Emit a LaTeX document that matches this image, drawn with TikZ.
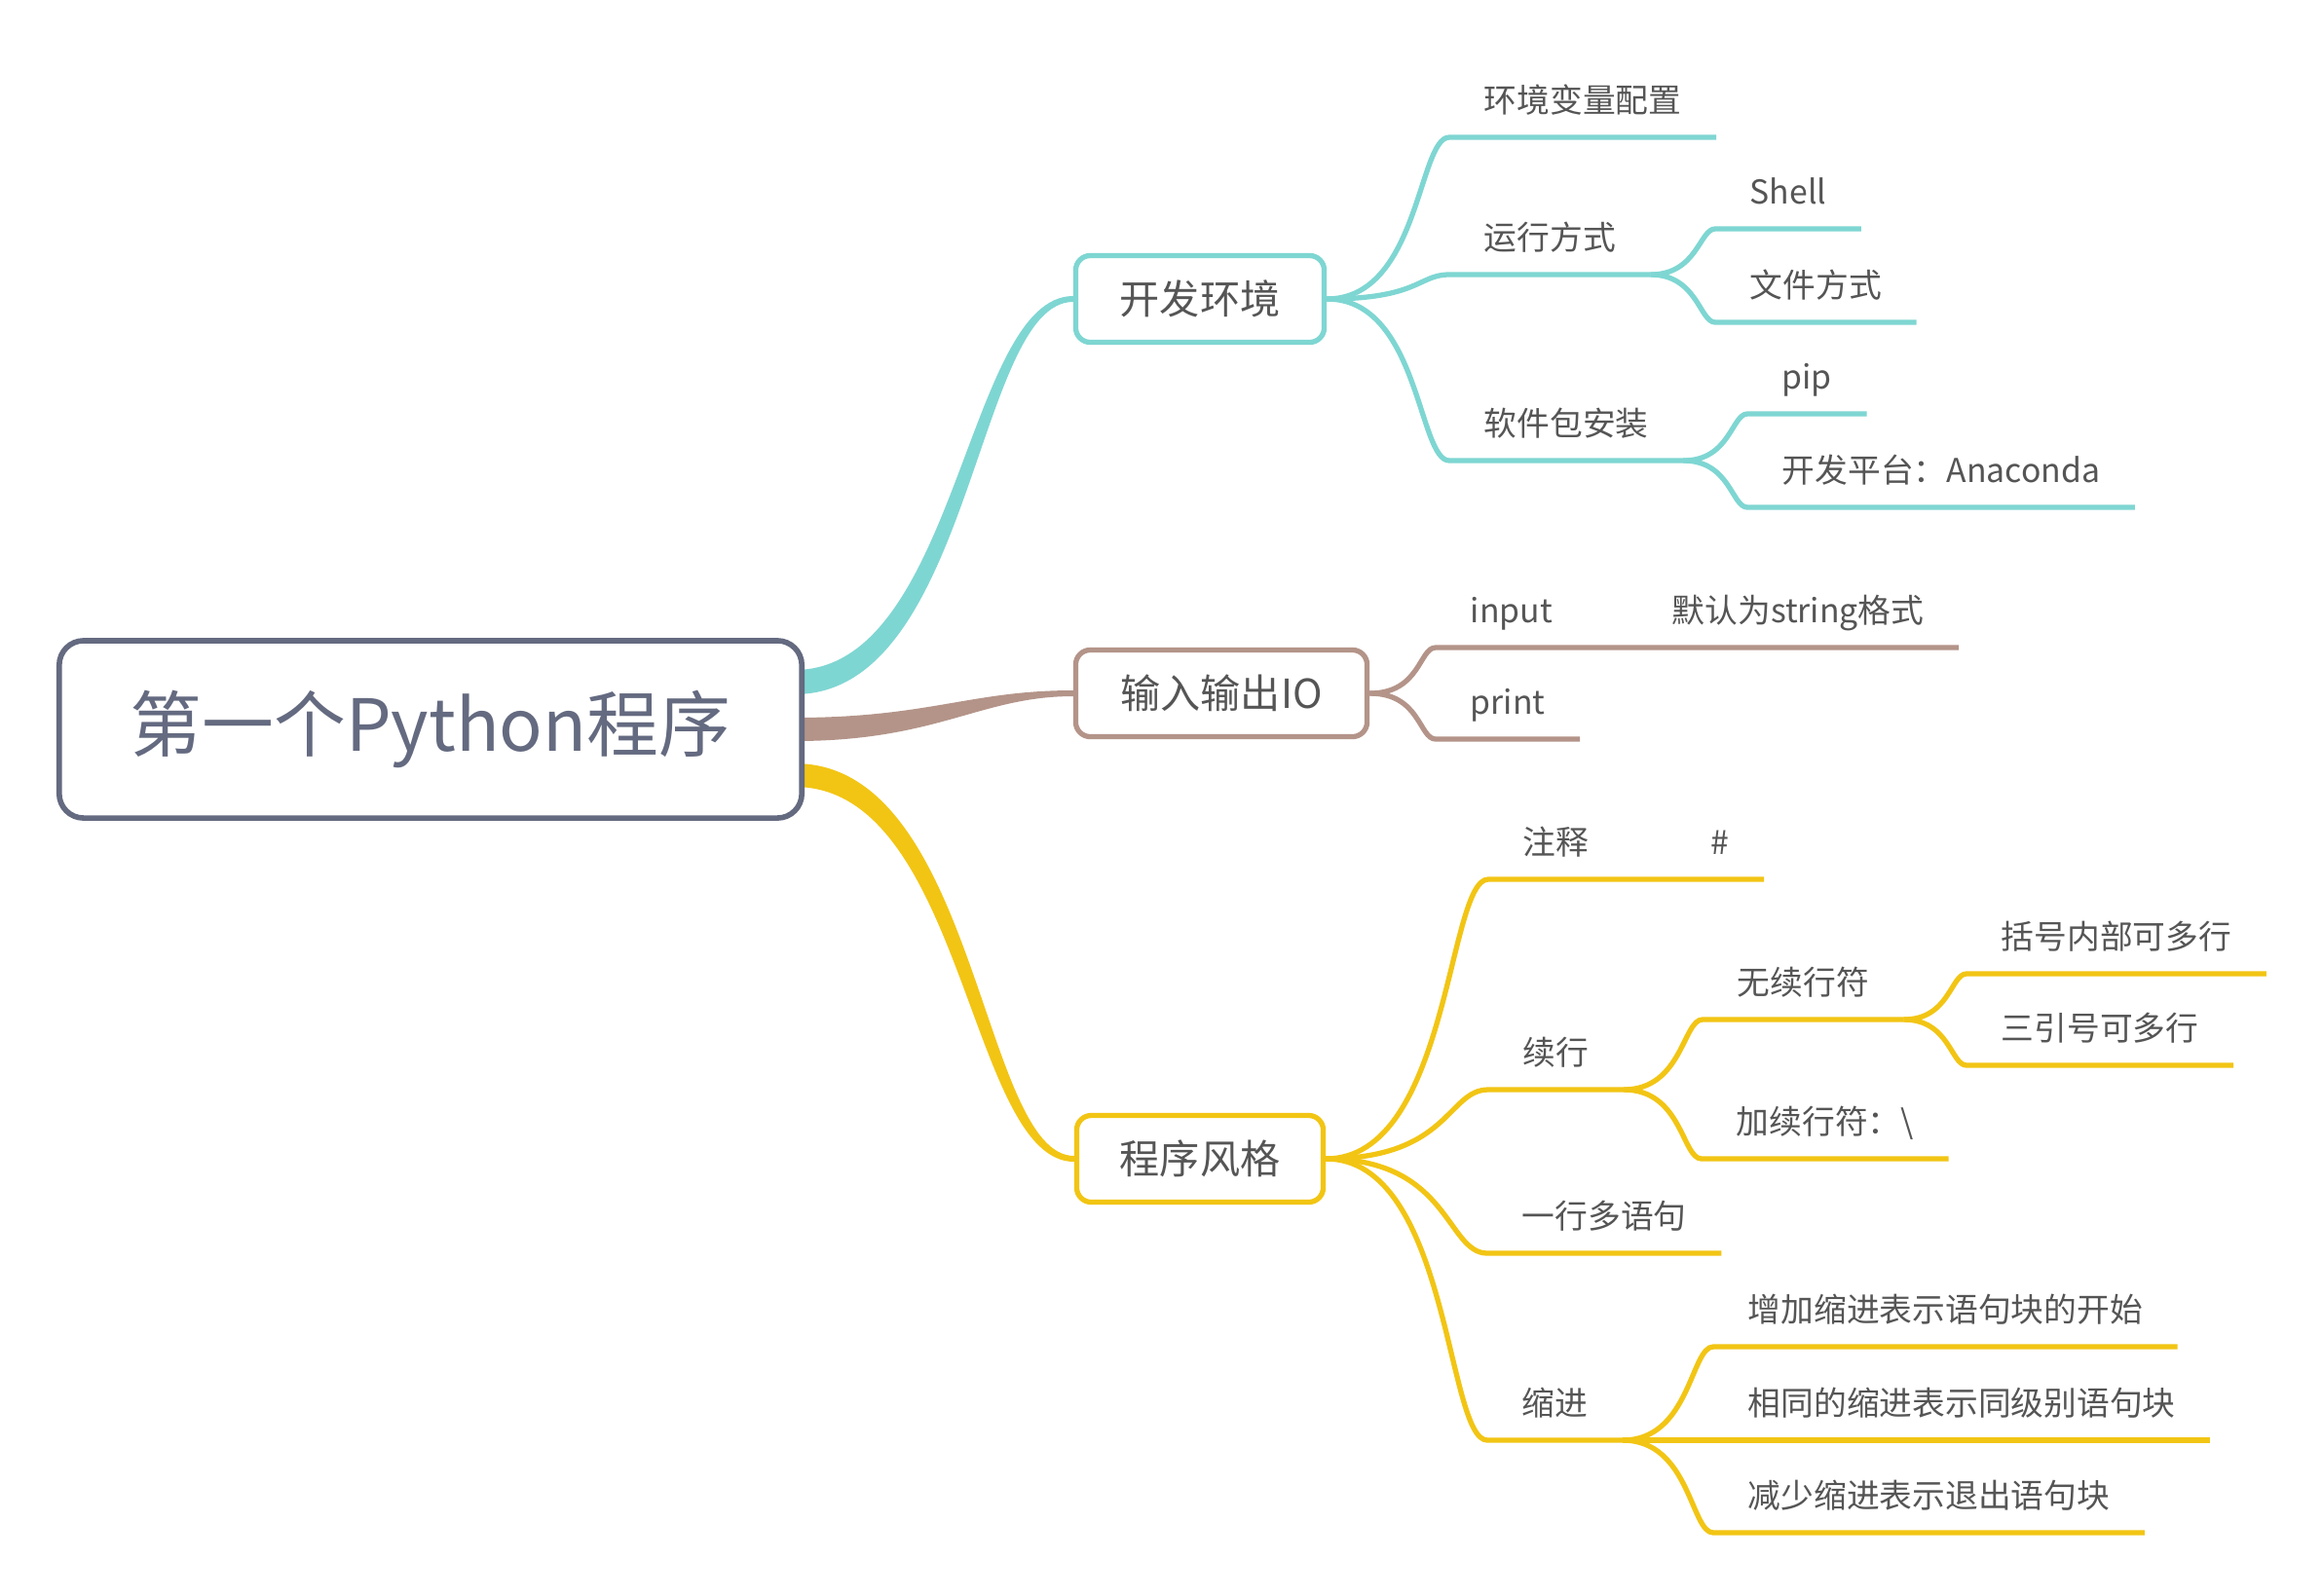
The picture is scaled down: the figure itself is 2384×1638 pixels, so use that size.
\documentclass[tikz,border=0pt]{standalone}
\usepackage{fontspec}
\setmainfont{Noto Sans CJK SC}
\usetikzlibrary{backgrounds}

\definecolor{rootc}{RGB}{100,106,128}
\definecolor{tealc}{RGB}{126,214,210}
\definecolor{brownc}{RGB}{180,148,137}
\definecolor{yellowc}{RGB}{242,197,20}
\definecolor{textc}{RGB}{85,85,85}

\begin{document}
\begin{tikzpicture}[x=0.01cm,y=-0.01cm,
  every node/.style={text=textc},
  rootbox/.style={draw=rootc,line width=1.6pt,rounded corners=0.25cm,fill=white,
    minimum width=7.62cm,minimum height=1.82cm,text=rootc,font=\fontsize{21}{25}\selectfont},
  mainbox/.style={draw=#1,line width=1.5pt,rounded corners=0.15cm,fill=white,
    minimum height=0.89cm,font=\fontsize{11.7}{14}\selectfont},
  topic/.style={anchor=south west,inner xsep=0.35cm,inner ysep=0pt,minimum height=0.76cm,
    text height=0.86em,text depth=0.1em,font=\fontsize{9.6}{12}\selectfont},
  link/.style={line width=1.5pt}]

% main topics
\node[rootbox] (root) at (442,749) {第一个Python程序};
\node[mainbox=tealc,minimum width=2.55cm] (devenv) at (1232,307) {开发环境};
\node[mainbox=brownc,minimum width=2.99cm] (io) at (1254,712) {输入输出IO};
\node[mainbox=yellowc,minimum width=2.53cm] (pstyle) at (1232,1190) {程序风格};

% first branch
\node[topic] (env) at (1488,141) {环境变量配置};
\node[topic] (run) at (1488,282) {运行方式};
\node[topic] (shell) at (1761,235) {Shell};
\node[topic] (file) at (1761,331) {文件方式};
\node[topic] (pkg) at (1488,473) {软件包安装};
\node[topic] (pip) at (1794,425) {pip};
\node[topic] (conda) at (1794,521) {开发平台：Anaconda};

% second branch
\node[topic] (input) at (1474,665) {input};
\node[topic] (default) at (1681,665) {默认为string格式};
\node[topic] (print) at (1474,759) {print};

% third branch
\node[topic] (note) at (1528,903) {注释};
\node[topic] (hash) at (1721,903) {\#};
\node[topic] (cont) at (1528,1119) {续行};
\node[topic] (nocont) at (1748,1047) {无续行符};
\node[topic] (bracket) at (2019,1000) {括号内部可多行};
\node[topic] (triple) at (2019,1094) {三引号可多行};
\node[topic] (addcont) at (1747,1190) {加续行符：\textbackslash};
\node[topic] (multi) at (1527,1287) {一行多语句};
\node[topic] (indent) at (1527,1479) {缩进};
\node[topic] (incr) at (1759,1383) {增加缩进表示语句块的开始};
\node[topic] (same) at (1759,1479) {相同的缩进表示同级别语句块};
\node[topic] (decr) at (1759,1574) {减少缩进表示退出语句块};

\begin{scope}[on background layer]
\fill[white] (0,0) rectangle (2384,1638);
% thick tapered branches out of the root
\fill[tealc] ([xshift=-0.1cm,yshift=0.61cm]root.east) .. controls +(167,0) and +(-110,0) .. ([yshift=0.03cm]devenv.west)
  -- ([yshift=-0.03cm]devenv.west) .. controls +(-100,0) and +(182,0) .. ([xshift=-0.1cm,yshift=0.36cm]root.east) -- cycle;
\fill[brownc] ([xshift=-0.1cm,yshift=0.12cm]root.east) .. controls +(137,0) and +(-105,0) .. ([yshift=0.03cm]io.west)
  -- ([yshift=-0.03cm]io.west) .. controls +(-95,0) and +(147,0) .. ([xshift=-0.1cm,yshift=-0.12cm]root.east) -- cycle;
\fill[yellowc] ([xshift=-0.1cm,yshift=-0.35cm]root.east) .. controls +(187,0) and +(-95,0) .. ([yshift=0.03cm]pstyle.west)
  -- ([yshift=-0.03cm]pstyle.west) .. controls +(-108,0) and +(174,0) .. ([xshift=-0.1cm,yshift=-0.59cm]root.east) -- cycle;
\end{scope}

% first branch links
\draw[link,tealc] (devenv.east) .. controls +(95,0) and +(-32,0) .. (env.south west) -- (env.south east);
\draw[link,tealc] (devenv.east) .. controls +(95,0) and +(-32,0) .. (run.south west) -- (run.south east);
\draw[link,tealc] (devenv.east) .. controls +(95,0) and +(-32,0) .. (pkg.south west) -- (pkg.south east);
\draw[link,tealc] (run.south east) .. controls +(48,0) and +(-16,0) .. (shell.south west) -- (shell.south east);
\draw[link,tealc] (run.south east) .. controls +(48,0) and +(-16,0) .. (file.south west) -- (file.south east);
\draw[link,tealc] (pkg.south east) .. controls +(48,0) and +(-16,0) .. (pip.south west) -- (pip.south east);
\draw[link,tealc] (pkg.south east) .. controls +(48,0) and +(-16,0) .. (conda.south west) -- (conda.south east);

% second branch links
\draw[link,brownc] (io.east) .. controls +(52,0) and +(-17,0) .. (input.south west) -- (input.south east)
  -- (default.south west) -- (default.south east);
\draw[link,brownc] (io.east) .. controls +(52,0) and +(-17,0) .. (print.south west) -- (print.south east);

% third branch links
\draw[link,yellowc] (pstyle.east) .. controls +(127,0) and +(-42,0) .. (note.south west) -- (note.south east)
  -- (hash.south west) -- (hash.south east);
\draw[link,yellowc] (pstyle.east) .. controls +(127,0) and +(-42,0) .. (cont.south west) -- (cont.south east);
\draw[link,yellowc] (pstyle.east) .. controls +(127,0) and +(-42,0) .. (multi.south west) -- (multi.south east);
\draw[link,yellowc] (pstyle.east) .. controls +(127,0) and +(-42,0) .. (indent.south west) -- (indent.south east);
\draw[link,yellowc] (cont.south east) .. controls +(60,0) and +(-20,0) .. (nocont.south west) -- (nocont.south east);
\draw[link,yellowc] (cont.south east) .. controls +(60,0) and +(-20,0) .. (addcont.south west) -- (addcont.south east);
\draw[link,yellowc] (nocont.south east) .. controls +(47,0) and +(-16,0) .. (bracket.south west) -- (bracket.south east);
\draw[link,yellowc] (nocont.south east) .. controls +(47,0) and +(-16,0) .. (triple.south west) -- (triple.south east);
\draw[link,yellowc] (indent.south east) .. controls +(69,0) and +(-23,0) .. (incr.south west) -- (incr.south east);
\draw[link,yellowc] (indent.south east) -- (same.south west) -- (same.south east);
\draw[link,yellowc] (indent.south east) .. controls +(69,0) and +(-23,0) .. (decr.south west) -- (decr.south east);
\end{tikzpicture}
\end{document}
